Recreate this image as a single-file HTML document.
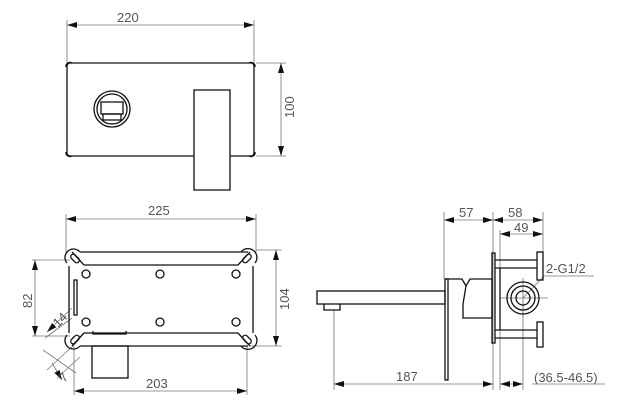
<!DOCTYPE html>
<html><head><meta charset="utf-8"><style>
html,body{margin:0;padding:0;background:#fff;}
svg{display:block;}
text{font-family:"Liberation Sans",sans-serif;font-size:13px;fill:#555;}
</style></head><body>
<svg width="644" height="418" viewBox="0 0 644 418" xmlns="http://www.w3.org/2000/svg">
<defs>
<marker id="a" viewBox="0 0 10 6" refX="10" refY="3" markerWidth="10" markerHeight="6" orient="auto-start-reverse" markerUnits="userSpaceOnUse"><path d="M0,0 L10,3 L0,6 z" fill="#111"/></marker>
</defs>
<g stroke="#777" stroke-width="0.8" fill="none">
<line x1="67" y1="25" x2="254" y2="25" marker-start="url(#a)" marker-end="url(#a)"/>
<line x1="67" y1="20" x2="67" y2="63"/><line x1="254" y1="20" x2="254" y2="63"/>
<line x1="256" y1="63" x2="286" y2="63"/><line x1="256" y1="156" x2="286" y2="156"/>
<line x1="281" y1="63" x2="281" y2="156" marker-start="url(#a)" marker-end="url(#a)"/>
<line x1="66" y1="219" x2="256" y2="219" marker-start="url(#a)" marker-end="url(#a)"/>
<line x1="66" y1="214" x2="66" y2="252"/><line x1="256" y1="214" x2="256" y2="252"/>
<line x1="256" y1="250" x2="282" y2="250"/><line x1="249" y1="346" x2="282" y2="346"/>
<line x1="276" y1="250" x2="276" y2="346" marker-start="url(#a)" marker-end="url(#a)"/>
<line x1="32" y1="260" x2="70" y2="260"/><line x1="32" y1="336" x2="70" y2="336"/>
<line x1="35" y1="260" x2="35" y2="336" marker-start="url(#a)" marker-end="url(#a)"/>
<line x1="74" y1="346" x2="74" y2="395"/><line x1="247" y1="346" x2="247" y2="395"/>
<line x1="74" y1="391" x2="247" y2="391" marker-start="url(#a)" marker-end="url(#a)"/>
<line x1="47" y1="332" x2="72" y2="308" marker-start="url(#a)"/>
<line x1="45" y1="338" x2="72" y2="318"/>
<line x1="43" y1="350" x2="76" y2="373" />
<line x1="52" y1="363" x2="62" y2="380" marker-end="url(#a)"/>
<line x1="47" y1="370" x2="76" y2="343"/>
<line x1="57" y1="378" x2="80" y2="357"/>
<line x1="444" y1="212" x2="444" y2="279"/><line x1="493" y1="212" x2="493" y2="390"/>
<line x1="543" y1="212" x2="543" y2="252"/><line x1="500" y1="230" x2="500" y2="268"/>
<line x1="444" y1="220" x2="493" y2="220" marker-start="url(#a)" marker-end="url(#a)"/>
<line x1="493" y1="220" x2="543" y2="220" marker-start="url(#a)" marker-end="url(#a)"/>
<line x1="500" y1="234" x2="543" y2="234" marker-start="url(#a)" marker-end="url(#a)"/>
<line x1="334" y1="310" x2="334" y2="390"/>
<line x1="334" y1="384" x2="493" y2="384" marker-start="url(#a)" marker-end="url(#a)"/>
<line x1="500" y1="384" x2="523" y2="384" marker-start="url(#a)" marker-end="url(#a)"/>
<line x1="523" y1="300" x2="523" y2="390"/><line x1="500" y1="330" x2="500" y2="390"/>
<line x1="532" y1="384" x2="605" y2="384"/>
<line x1="500" y1="298" x2="548" y2="298"/><line x1="523" y1="278" x2="523" y2="318"/>
<line x1="523" y1="298" x2="544" y2="276"/><line x1="544" y1="276" x2="594" y2="276"/>
</g>
<g stroke="#111" stroke-width="1.3" fill="none">
<rect x="67" y="63" width="187" height="93" rx="3"/>
<path d="M66,67 A4,4 0 0 1 72,63 M249,63 A4,4 0 0 1 255,67 M66,152 A4,4 0 0 0 72,156 M249,156 A4,4 0 0 0 255,152"/>
<rect x="194" y="90" width="36" height="100" fill="#fff"/>
<circle cx="112" cy="109" r="18"/><circle cx="112" cy="109" r="15"/>
<rect x="101" y="102" width="22" height="12"/><rect x="103" y="114" width="18" height="6"/>
<path d="M80,252 L248,252 M80,346 L248,346 M69,266 L69,333 M253,266 L253,333"/>
<path d="M84,265 L238,265 L250,252 M84,265 L72,252 M84,333 L238,333 L250,346 M84,333 L72,346"/>
<path d="M67,263 A8,8 0 0 1 80,252 M241,252 A8,8 0 0 1 255,263 M67,335 A8,8 0 0 0 80,346 M241,346 A8,8 0 0 0 255,335"/>
<rect x="70" y="256" width="10" height="5" rx="2.5" transform="rotate(45 75 258.5)"/>
<rect x="242" y="256" width="10" height="5" rx="2.5" transform="rotate(-45 247 258.5)"/>
<rect x="70" y="337" width="10" height="5" rx="2.5" transform="rotate(-45 75 339.5)"/>
<rect x="242" y="337" width="10" height="5" rx="2.5" transform="rotate(45 247 339.5)"/>
<circle cx="86" cy="274" r="4"/><circle cx="160" cy="274" r="4"/><circle cx="236" cy="274" r="4"/>
<circle cx="86" cy="322" r="4"/><circle cx="160" cy="322" r="4"/><circle cx="236" cy="322" r="4"/>
<rect x="74" y="280" width="3" height="35"/>
<path d="M93,331 L93,334 L126,334 L126,331"/>
<rect x="92" y="346" width="36" height="32"/>
<rect x="317" y="291" width="128" height="13"/>
<path d="M324,304 L324,310 L340,310 L340,304"/>
<path d="M445,279 L462,279 L466,286 L470,279 L492,279 L492,318 L463,318 L463,304 M466,286 L463,304"/>
<rect x="445" y="279" width="3" height="101"/>
<rect x="492" y="253" width="3" height="90"/>
<path d="M495,268 L537,268 M495,330 L537,330 M500,268 L500,330 M495,260 L537,260 M495,338 L537,338"/>
<rect x="537" y="252" width="6" height="28"/><rect x="537" y="322" width="6" height="25"/>
<circle cx="523" cy="298" r="16"/><circle cx="523" cy="298" r="12"/><circle cx="523" cy="298" r="7"/>
</g>
<text x="117" y="22">220</text>
<text x="148" y="215">225</text>
<text x="146" y="388">203</text>
<text x="459" y="217">57</text>
<text x="508" y="217">58</text>
<text x="514" y="232">49</text>
<text x="396" y="381">187</text>
<text x="534" y="382">(36.5-46.5)</text>
<text x="546" y="273">2-G1/2</text>
<text transform="translate(294,118) rotate(-90)">100</text>
<text transform="translate(289,310) rotate(-90)">104</text>
<text transform="translate(32,308) rotate(-90)">82</text>
<text transform="translate(58,328) rotate(-45)">14</text>
<text transform="translate(64,383) rotate(-45)">7</text>
</svg>
</body></html>
